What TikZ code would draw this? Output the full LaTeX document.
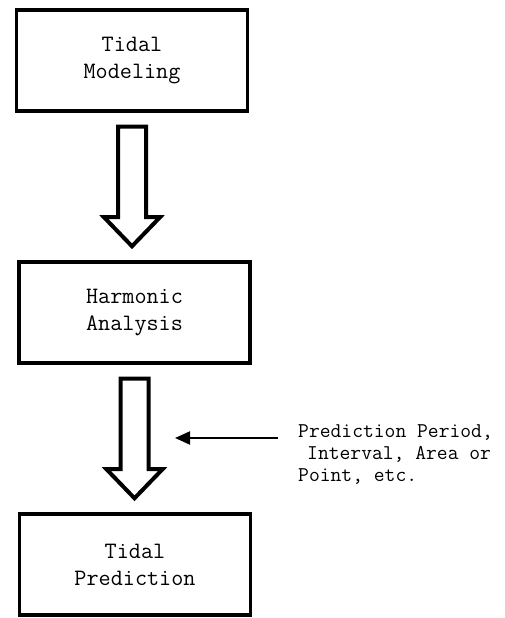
\documentclass[tikz,border=0pt]{standalone}
\usepackage{fontspec}
\usetikzlibrary{calc,arrows.meta}

\tikzset{
  stage/.style={draw, line width=3.5pt, minimum width=231pt, minimum height=101pt,
    align=center, font=\fontsize{23.5}{27}\selectfont\ttfamily},
  hollow/.style={draw, line width=4pt, line join=miter},
  feed/.style={line width=2pt, -{Triangle[length=15pt,width=13pt]}},
}

% open block arrow from the bottom of one box to the top of the next
\newcommand{\hollowarrow}[2]{%
  \draw[hollow] let \p1=(#1.south), \p2=(#2.north) in
    (\x1-14pt,\y1-14pt) -- (\x1+14pt,\y1-14pt) -- (\x1+14pt,\y2+43pt)
    -- (\x1+28pt,\y2+43pt) -- (\x1,\y2+14pt) -- (\x1-28pt,\y2+43pt)
    -- (\x1-14pt,\y2+43pt) -- cycle;}

\begin{document}
\begin{tikzpicture}[x=1pt,y=1pt]
	\useasboundingbox (0,0) rectangle (505,618);
	\node[stage] (model) at (132, 557.5) {Tidal\\Modeling};
	\node[stage] (analysis) at (134.5, 305.5) {Harmonic\\Analysis};
	\node[stage] (predict) at (135, 53.5) {Tidal\\Prediction};
	\node[anchor=west, inner sep=0, align=left,
	  font=\fontsize{21}{22}\selectfont\ttfamily] (note) at (298, 163)
	  {Prediction Period,\\\hspace*{9pt}Interval, Area or\\Point, etc.};
	\coordinate (hit) at (175, 180);
	\hollowarrow{model}{analysis}
	\hollowarrow{analysis}{predict}
	\draw[feed, shorten <=20pt] (hit -| note.west) -- (hit);
\end{tikzpicture}
\end{document}
